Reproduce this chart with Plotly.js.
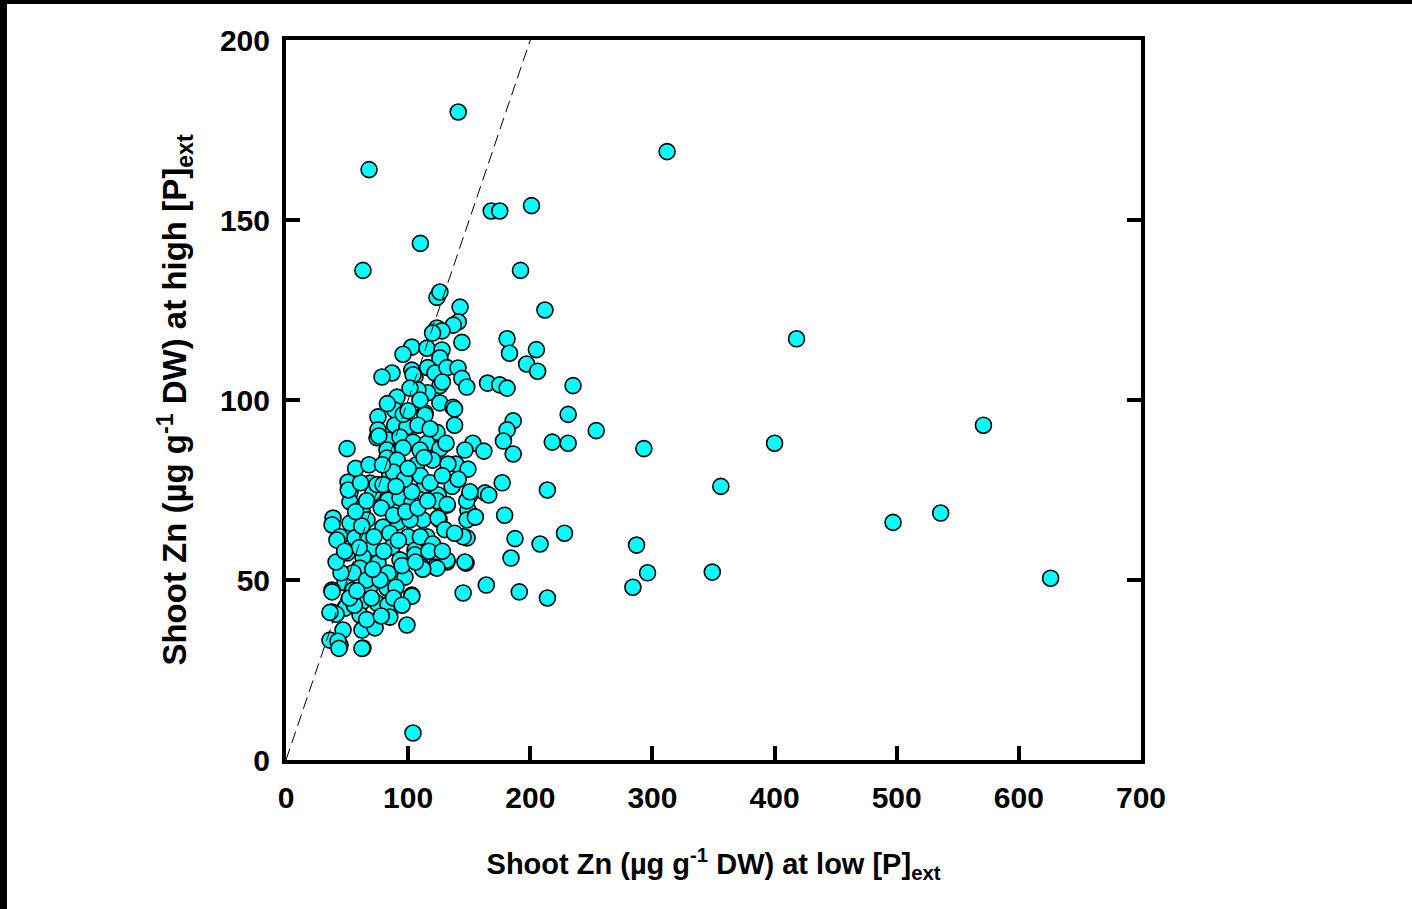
<!DOCTYPE html>
<html>
<head>
<meta charset="utf-8">
<script src="https://cdn.plot.ly/plotly-3.0.1.min.js"></script>
<style>
html,body{margin:0;padding:0;background:#fff;}
#frameTop{position:absolute;left:0;top:0;width:1412px;height:4px;background:#000;z-index:5;}
#frameLeft{position:absolute;left:0;top:0;width:7px;height:909px;background:#000;z-index:5;}
#chart{width:1412px;height:909px;}
</style>
</head>
<body>
<div id="frameTop"></div>
<div id="frameLeft"></div>
<div id="chart"></div>
<script>
// Shoot Zn (µg g-1 DW) at low [P]ext
var znLowP = [
141,312,68,110,63,168,175,201,192,212,
418,181,183,205,197,206,235,231,254,218,
231,293,400,571,356,214,497,536,626,349,
296,287,284,228,208,191,214,164,145,104,
187.5,179,177,165,175,181,186,181,178,186,
153,162,146.5,139,149,132.6,120.4,150.6,163,166,
124.5,131.8,149,154.7,148.2,125.3,112,148.2,115.4,131.8,
122,147.4,184.2,112,
123.6,126,142.5,141,137,123.6,127.7,144,103,95.8,
115.4,127.7,126,103,105.6,116,122,131.8,140.8,144,
148,126,116,108,126,136.7,138,113.8,86.8,78.6,
104,101.5,109.7,90.9,89,75.3,113.8,75.3,89,99,
123.6,74.5,83.5,93.3,104,115.4,50,82.7,95.8,109.7,
126,120,128,
82.7,91,107,120,50.8,52.4,52.4,68.8,75.3,85,
95.8,103,113.8,124.5,71.2,83.5,93.3,103,127.7,62.2,
124.5,38.5,37.7,52.4,66.3,79.4,91.7,101.5,44.2,56.5,
67,85,100,71.2,86.8,105.6,50,63,75.3,93.3,
105.6,60.6,97.4,83.5,48.3,37.7,54.9,68.8,82.7,103,
62.2,74.5,83.5,37.7,48.3,60.6,85,99,46.7,62.2,
72.9,36,44.2,63,41,76,
51,62,41.7,74.5,85,79.4,103,123.6,132,148,
150.6,155,145,131.8,123.6,112,146.5,103,62.2,37.7,
36,42.6,43.4,
88,97,110,118,57,66,78,88,98,108,
116,60,72,80,92,110,120,55,66,77,
90,70,56,66,78,52,95,106,117,128,
130,138,136,141,128,131,138,108,96,83,
100,118,113,100,90,61,57,68,79,45,
58,71,88,95,41,48
];
// Shoot Zn (µg g-1 DW) at high [P]ext
var znHighP = [
180,169,164,143.5,136,152.5,152.5,154,136,125,
117,117,113,114,110,108,104,96,91.5,88.3,
88,86.5,88,93,76,75,66,68.6,50.5,52.2,
52,59.7,48,63,60,46.7,45,48.6,46.4,7.5,
61.5,68,77,104.7,104.2,103.3,94.2,91.7,88.6,85,
88,85.8,86.1,82.2,80.8,82.2,83.6,73.6,74.2,73.6,
72.8,70.8,69.4,67.5,66.7,66.9,66.7,61.7,62,55,
53.6,54.7,56.1,53.5,
128.5,130,125.8,121.7,120.8,120,119.2,116,114.7,112.7,
114.4,113.9,111.7,108.3,106.4,109,107.5,109,108.9,106,
103.6,104,102,102.8,99.2,98,97.5,96.4,107.5,106.4,
107,103.3,100,100.8,97.2,95.3,95.8,91.7,93,92.5,
91,89.5,88.9,89.7,88.3,88,86.5,86.1,86.7,86.1,
86.5,118.6,105,
83.9,83.3,82,83.3,77.2,74.4,71.7,76.9,76.4,79.7,
75.8,74.4,76.4,73.6,74.2,72.2,72.8,71.4,70.8,70,
67.2,67.2,65.3,65.8,66.7,64.7,66.1,66.7,62,61.7,
62,63,62,58.9,59.2,58.3,57.5,56.4,54.7,55.6,
57,53.3,50.8,51.9,49.2,47.2,47.2,48.1,47.8,45.8,
43.9,43.6,43.1,41.1,42.2,40.3,39.7,37.5,36.1,36.1,
36.7,33.3,31.9,31.1,40.5,90,
75,65,61.1,76.5,79,76.5,74.5,72,71,72,
74.5,67.5,62,55.5,53.3,53,55,45.5,31,46.7,
41,33,31,
80,78,79,77,69,72,70,68,69,70,
72,59,62,58,61,62,60,52,50,50,
48,45,43,39,40,45,54,55,58,58,
64,63,76,78,79,88,93,93,96,99,
97,92,84,81,76,77,81,82,82,52,
47,53,45,43,55,58
];
// 1:1 reference line
var refX = [0, 200];
var refY = [0, 200];

var xTicks = [0,100,200,300,400,500,600,700];
var yTicks = [0,50,100,150,200];

var fontFam = '"Liberation Sans", Arial, sans-serif';

var traces = [
  {
    x: znLowP, y: znHighP, type: 'scatter', mode: 'markers',
    marker: {color: '#00FFFF', size: 16, line: {color: '#000', width: 1.6}},
    hoverinfo: 'x+y'
  },
  {
    x: refX, y: refY, type: 'scatter', mode: 'lines',
    line: {color: '#000', width: 1, dash: '12px,6px'},
    hoverinfo: 'skip'
  }
];

var layout = {
  width: 1412, height: 909,
  margin: {l: 286, r: 271, t: 40, b: 149, pad: 0},
  paper_bgcolor: '#fff', plot_bgcolor: '#fff',
  showlegend: false,
  font: {family: fontFam, color: '#000'},
  xaxis: {
    range: [0, 700], tickvals: xTicks, ticktext: xTicks.map(String),
    showgrid: false, zeroline: false,
    showline: true, linecolor: '#000', linewidth: 4, mirror: true,
    ticks: 'inside', ticklen: 14, tickwidth: 4, tickcolor: '#000',
    ticklabelstandoff: 8,
    tickfont: {family: fontFam, size: 30, weight: 'bold', color: '#000'},
    title: {text: 'Shoot Zn (µg g<sup>-1</sup> DW) at low [P]<sub>ext</sub>',
            font: {family: fontFam, size: 29, weight: 'bold', color: '#000'}, standoff: 42}
  },
  yaxis: {
    range: [0, 200], tickvals: yTicks, ticktext: yTicks.map(String),
    showgrid: false, zeroline: false,
    showline: true, linecolor: '#000', linewidth: 4, mirror: 'ticks',
    ticks: 'inside', ticklen: 14, tickwidth: 4, tickcolor: '#000',
    ticklabelstandoff: 6,
    tickfont: {family: fontFam, size: 30, weight: 'bold', color: '#000'},
    title: {text: 'Shoot Zn (µg g<sup>-1</sup> DW) at high [P]<sub>ext</sub>',
            font: {family: fontFam, size: 33, weight: 'bold', color: '#000'}, standoff: 24}
  }
};

Plotly.newPlot('chart', traces, layout, {displayModeBar: false, staticPlot: true});
</script>
</body>
</html>
